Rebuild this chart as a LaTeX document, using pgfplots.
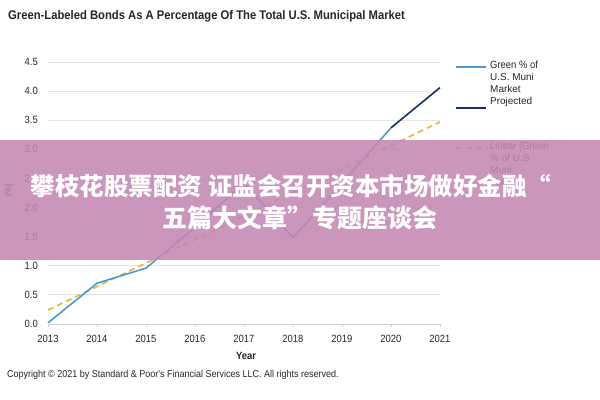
\documentclass[border=0pt]{standalone}
\usepackage{fontspec}
\usepackage{pgfplots}
\pgfplotsset{compat=1.18}
\setmainfont{Liberation Sans}
\newfontfamily\narrowfont[FakeStretch=0.9]{Liberation Sans}
\newfontfamily\cjk{Noto Sans CJK SC}
\definecolor{actual}{HTML}{4A9BCF}
\definecolor{proj}{HTML}{14325A}
\definecolor{trend}{HTML}{F2B43A}
\definecolor{gridc}{HTML}{E4E4E4}
\definecolor{axisc}{HTML}{CFCFCF}
\definecolor{banner}{HTML}{C487B2}
\definecolor{txt}{HTML}{262626}
\begin{document}
\begin{tikzpicture}
\path[use as bounding box] (0bp,0bp) rectangle (600bp,400bp);
\begin{axis}[
  at={(48bp,76bp)}, anchor=south west,
  width=392bp, height=262bp, scale only axis,
  xmin=2013, xmax=2021, ymin=0, ymax=4.5,
  xtick={2013,...,2021}, ytick={0,0.5,...,4.5},
  xticklabel style={/pgf/number format/1000 sep={}, inner sep=0pt, yshift=-8bp},
  yticklabel style={/pgf/number format/fixed, /pgf/number format/fixed zerofill, /pgf/number format/precision=1, inner sep=0pt, xshift=-7bp},
  /pgf/number format/assume math mode=true,
  ticklabel style={font=\narrowfont\fontsize{10.5bp}{12bp}\selectfont, text=txt},
  axis x line*=bottom, axis y line*=left,
  x axis line style={draw=axisc, line width=0.8bp},
  y axis line style={draw=none},
  ymajorgrids, grid style={draw=gridc, line width=0.8bp},
  xtick style={draw=axisc, line width=0.8bp},
  ytick style={draw=none},
  major tick length=3bp,
  tick align=outside,
  clip=false,
]
\addplot[trend, line width=1.7bp, dash pattern=on 6bp off 4bp] coordinates {(2013,0.24) (2021,3.47)};
\addplot[actual, line width=1.6bp] coordinates {(2013,0.02) (2014,0.70) (2015,0.96) (2016,1.66) (2017,2.42) (2018,1.48) (2019,2.42) (2020,3.37)};
\addplot[proj, line width=1.6bp] coordinates {(2020,3.37) (2021,4.06)};
\end{axis}
% titles and labels
\node[anchor=west, inner sep=0pt, text=txt] at (8bp,384bp) {\narrowfont\bfseries\fontsize{12.5bp}{14bp}\selectfont Green-Labeled Bonds As A Percentage Of The Total U.S. Municipal Market};
\node[inner sep=0pt, text=txt] at (246bp,44bp) {\narrowfont\bfseries\fontsize{10.5bp}{12bp}\selectfont Year};
\node[inner sep=0pt, text=txt, rotate=90] at (9bp,210bp) {\narrowfont\bfseries\fontsize{9bp}{11bp}\selectfont (\%)};
\node[anchor=west, inner sep=0pt, text=txt] at (7bp,25bp) {\narrowfont\fontsize{10bp}{12bp}\selectfont Copyright \textcopyright\ 2021 by Standard \& Poor's Financial Services LLC. All rights reserved.};
% legend
\draw[actual, line width=1.6bp] (456bp,333bp) -- (486bp,333bp);
\draw[proj, line width=1.6bp] (456bp,292bp) -- (486bp,292bp);
\draw[trend, line width=1.7bp, dash pattern=on 6bp off 4bp] (456bp,252bp) -- (488bp,252bp);
\node[anchor=north west, inner sep=0pt, align=left, text=txt] at (490bp,339bp) {\narrowfont\fontsize{10.5bp}{13.5bp}\selectfont Green \% of\\U.S. Muni\\Market\\Projected};
\node[anchor=north west, inner sep=0pt, align=left, text=txt] at (490bp,258bp) {\narrowfont\fontsize{10.5bp}{13.5bp}\selectfont Linear (Green\\\% of U.S.\\Muni\\Market)};
% overlay banner
\fill[banner, fill opacity=0.88] (0bp,140bp) rectangle (600bp,260bp);
\node[text=white, inner sep=0pt] at (291bp,214bp) {\cjk\bfseries\fontsize{24.5bp}{28bp}\selectfont 攀枝花股票配资 证监会召开资本市场做好金融“};
\node[text=white, inner sep=0pt] at (300bp,182bp) {\cjk\bfseries\fontsize{25bp}{28bp}\selectfont 五篇大文章”专题座谈会};
\end{tikzpicture}
\end{document}
